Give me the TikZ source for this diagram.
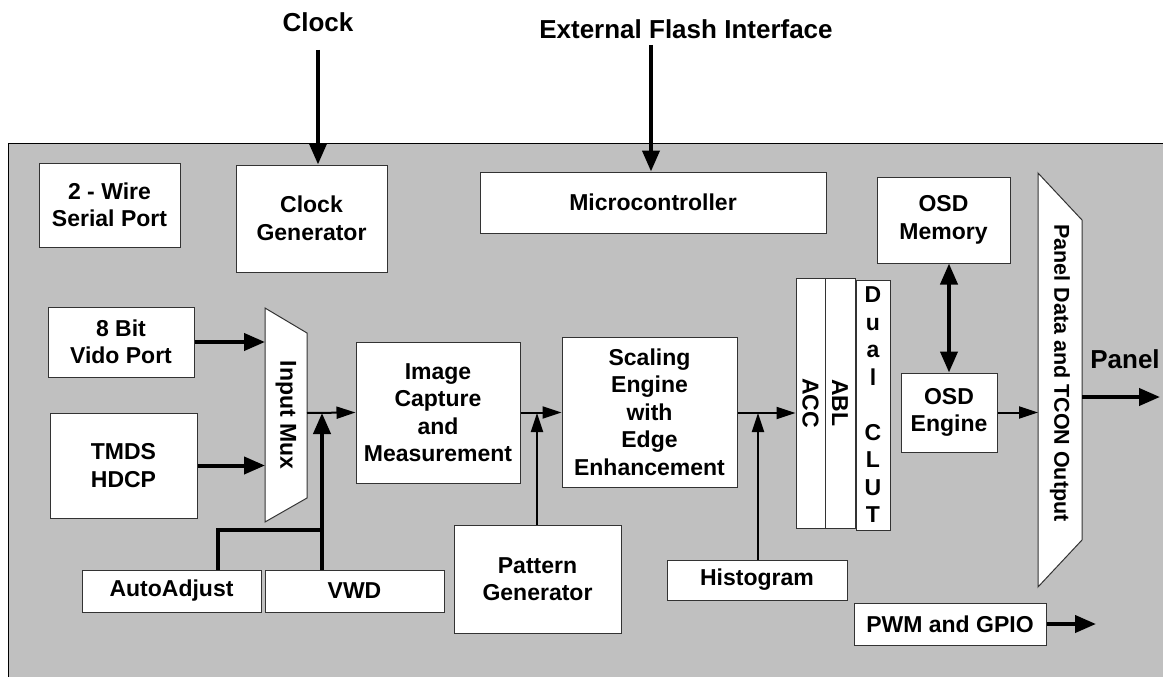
\documentclass[tikz,border=0pt]{standalone}
\usepackage{fontspec}
\usepackage{graphicx}
\setmainfont{Liberation Sans}
\usetikzlibrary{arrows.meta}
\definecolor{chipgray}{HTML}{C0C0C0}

\begin{document}
\begin{tikzpicture}[x=1pt, y=-1pt,
    block/.style={draw=black!80, line width=1pt, fill=white, align=center, inner sep=0pt,
                  font=\bfseries\fontsize{23}{27.5}\selectfont},
    title/.style={font=\bfseries\fontsize{26}{30}\selectfont, inner sep=0pt},
    fatline/.style={line width=4pt},
    fat/.style={line width=4pt, -{Triangle[length=21pt,width=17pt]}},
    slim/.style={line width=2pt, -{Triangle[length=19pt,width=12pt]}}]

       \useasboundingbox (0,0) rectangle (1163,677);
       \fill[chipgray] (8,143) rectangle (1163,677);
       \draw[line width=1pt] (8,677) -- (8,143) -- (1163,143);

       % outside signals
       \node[title] (clklabel) at (318,22) {Clock};
       \node[title] (flashlabel) at (686,29) {External Flash Interface};
       \node[title] (panellabel) at (1125,359) {Panel};

       % blocks
       \node[block, minimum width=141pt, minimum height=84pt] (wire) at (109.5,205) {2 - Wire\\Serial Port};
       \node[block, minimum width=151pt, minimum height=107pt] (clkgen) at (311.5,218.5) {Clock\\Generator};
       \node[block, minimum width=346pt, minimum height=61pt] (micro) at (653,202.5) {Microcontroller};
       \node[block, minimum width=133pt, minimum height=86pt] (osdmem) at (943.5,220) {OSD\\Memory};
       \node[block, minimum width=146pt, minimum height=70pt] (vido) at (121,342) {8 Bit\\Vido Port};
       \node[block, minimum width=147pt, minimum height=105pt] (tmds) at (123.5,465.5) {TMDS\\HDCP};
       \node[block, minimum width=164pt, minimum height=141pt] (imgcap) at (438,412.5) {Image\\Capture\\and\\Measurement};
       \node[block, minimum width=175pt, minimum height=150pt] (scaling) at (649.5,412) {Scaling\\Engine\\with\\Edge\\Enhancement};
       \node[block, minimum width=29pt, minimum height=250pt] (acc) at (810.5,403) {\rotatebox{-90}{ACC}};
       \node[block, minimum width=30pt, minimum height=250pt] (abl) at (840,403) {\rotatebox{-90}{ABL}};
       \node[block, minimum width=34pt, minimum height=250pt] (clut) at (873,405) {D\\u\\a\\l\\\mbox{}\\C\\L\\U\\T};
       \node[block, minimum width=96pt, minimum height=79pt] (osdeng) at (949,412.5) {OSD\\Engine};
       \node[block, minimum width=179pt, minimum height=42pt] (autoadj) at (171.5,591) {AutoAdjust};
       \node[block, minimum width=179pt, minimum height=42pt] (vwd) at (354.5,591) {VWD};
       \node[block, minimum width=167pt, minimum height=108pt] (pattern) at (537.5,579) {Pattern\\Generator};
       \node[block, minimum width=180pt, minimum height=40pt] (histo) at (757,580) {Histogram};
       \node[block, minimum width=192pt, minimum height=42pt] (pwm) at (950,624) {PWM and GPIO};

       % mux and output stage
       \draw[draw=black!80, line width=1pt, fill=white] (265,308) -- (307,333) -- (307,498) -- (265,522) -- cycle;
       \node[block, draw=none, fill=none, rotate=-90] (mux) at (286,415) {Input Mux};
       \draw[draw=black!80, line width=1pt, fill=white] (1038,173) -- (1082,220) -- (1082,540) -- (1038,587) -- cycle;
       \node[block, draw=none, fill=none, rotate=-90, font=\bfseries\fontsize{21.5}{26}\selectfont] (pout) at (1060,373) {Panel Data and TCON Output};

       \coordinate (clkin) at (318,50);
       \coordinate (flashin) at (651,45);
       \coordinate (muxin) at (265,0);
       \coordinate (muxout) at (307,413);
       \coordinate (j1) at (322,413);
       \coordinate (j2) at (537,413);
       \coordinate (j3) at (758,413);
       \coordinate (aa) at (218,530);
       \coordinate (poutin) at (1038,412.5);
       \coordinate (poutout) at (1082,397);
       \coordinate (panelend) at (1160,397);
       \coordinate (pwmend) at (1096,624);

       % connectors
       \draw[fat] (clkin) -- (clkin |- clkgen.north);
       \draw[fat] (flashin) -- (flashin |- micro.north);
       \draw[fat] (vido.east) -- (vido.east -| muxin);
       \draw[fat] (tmds.east) -- (tmds.east -| muxin);
       \draw[slim] (muxout) -- (imgcap.west);
       \draw[fatline] (autoadj.north -| aa) -- (aa) -- (aa -| j1);
       \draw[fat] (vwd.north -| j1) -- (j1);
       \draw[slim] (imgcap.east) -- (scaling.west |- imgcap.east);
       \draw[slim] (pattern.north -| j2) -- (j2);
       \draw[slim] (scaling.east |- j3) -- (acc.west |- j3);
       \draw[slim] (histo.north -| j3) -- (j3);
       \draw[line width=4pt, {Triangle[length=21pt,width=17pt]}-{Triangle[length=21pt,width=17pt]}] (osdmem.south -| osdeng) -- (osdeng.north);
       \draw[slim] (osdeng.east) -- (poutin);
       \draw[fat] (poutout) -- (panelend);
       \draw[fat] (pwm.east) -- (pwmend);
     \end{tikzpicture}
\end{document}
